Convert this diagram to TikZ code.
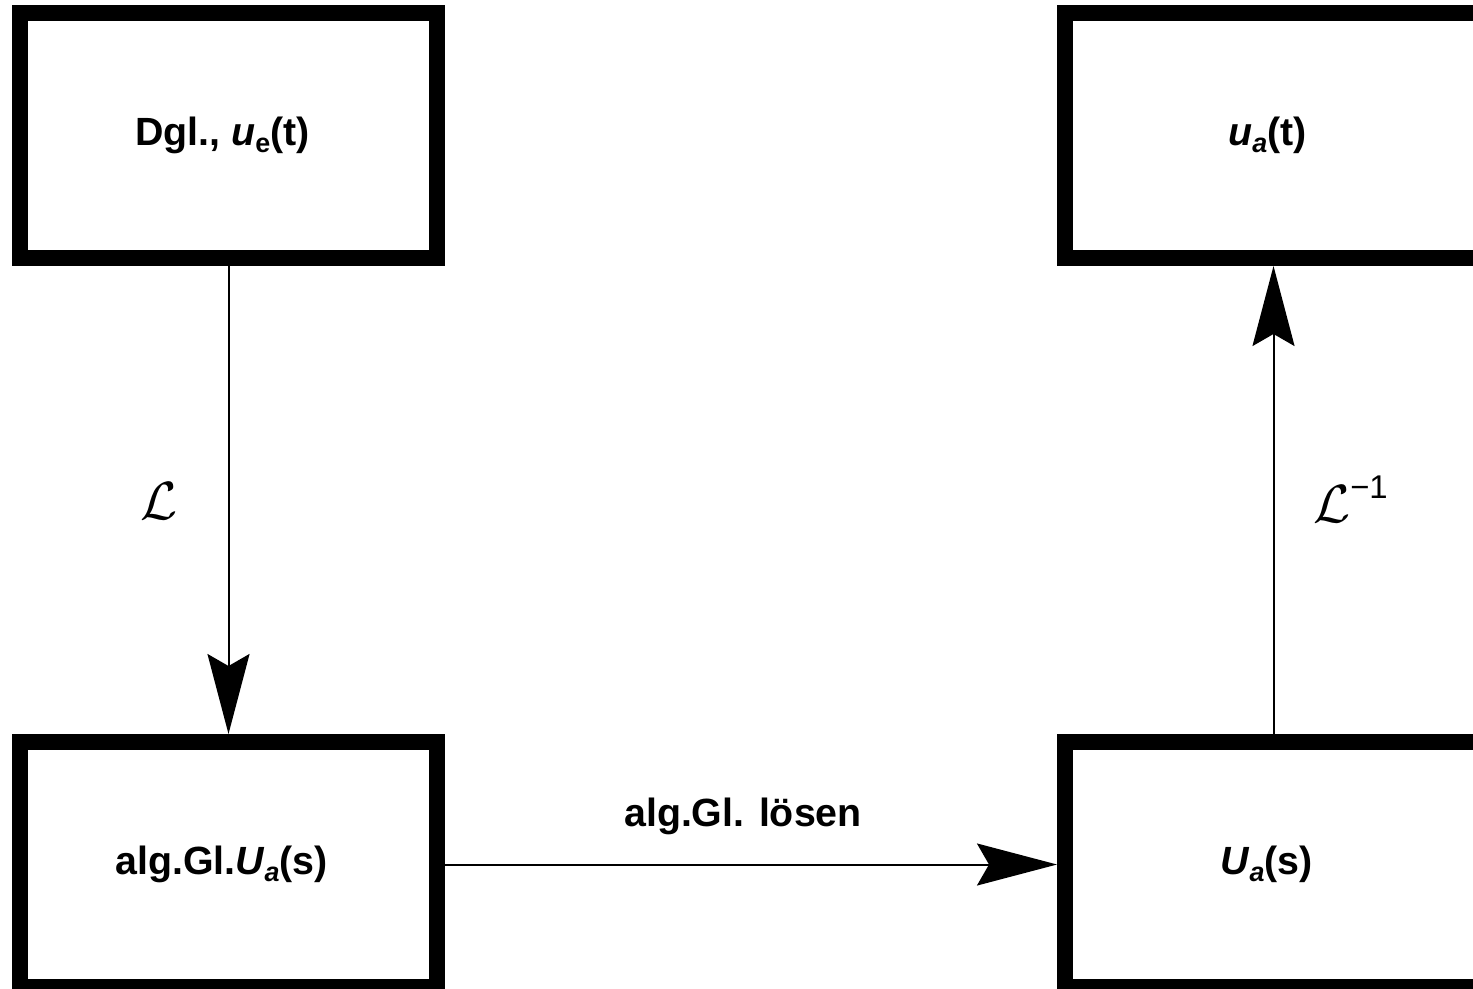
\documentclass[tikz,border=0pt]{standalone}
\usepackage{fontspec}
\usepackage{graphicx}
\setmainfont{Liberation Sans}
\usetikzlibrary{arrows.meta}
\tikzset{
  blockbox/.style={draw=black, line width=16bp, fill=white, rectangle,
    minimum width=417bp, minimum height=245bp, inner sep=0pt,
    font=\fontsize{39.5}{46}\selectfont\bfseries},
  conn/.style={draw=black, line width=2bp, -{Stealth[length=80bp, width=42bp, inset=12bp]}},
  lbl/.style={inner sep=0pt, font=\fontsize{39.5}{46}\selectfont\bfseries},
  lapl/.style={inner sep=0pt}
}
\newcommand{\sbs}[1]{{\fontsize{27}{30}\selectfont #1}}
\newcommand{\bigL}{\scalebox{2.6}{\fontsize{20}{24}\selectfont$\mathcal{L}$}}
\begin{document}
\begin{tikzpicture}[x=1bp, y=-1bp]
\useasboundingbox (0,0) rectangle (1473,988);
\clip (0,0) rectangle (1473,988);
\fill[white] (0,0) rectangle (1473,988);
\node[blockbox] (A) at (228.5,135.5) {\hspace*{-12bp}Dgl., \textit{u}\raisebox{-7bp}{\sbs{e}}(t)};
\node[blockbox] (B) at (1273.5,135.5) {\hspace*{-12bp}\textit{u}\raisebox{-7bp}{\sbs{\textit{a}}}(t)};
\node[blockbox] (C) at (228.5,864.5) {\hspace*{-14bp}alg.Gl.\textit{U}\raisebox{-7bp}{\sbs{\textit{a}}}(s)};
\node[blockbox] (D) at (1273.5,864.5) {\hspace*{-14bp}\textit{U}\raisebox{-7bp}{\sbs{\textit{a}}}(s)};
\draw[conn] (A.south) -- (C.north);
\draw[conn] (C.east) -- (D.west);
\draw[conn] (D.north) -- (B.south);
\node[lbl] (t1) at (743,816) {alg.Gl. lösen};
\node[lapl] (l1) at (159,501) {\bigL};
\node[lapl, anchor=west] (l2) at (1313,499) {\bigL\raisebox{24bp}{\fontsize{33}{36}\selectfont −1}};
\end{tikzpicture}
\end{document}
